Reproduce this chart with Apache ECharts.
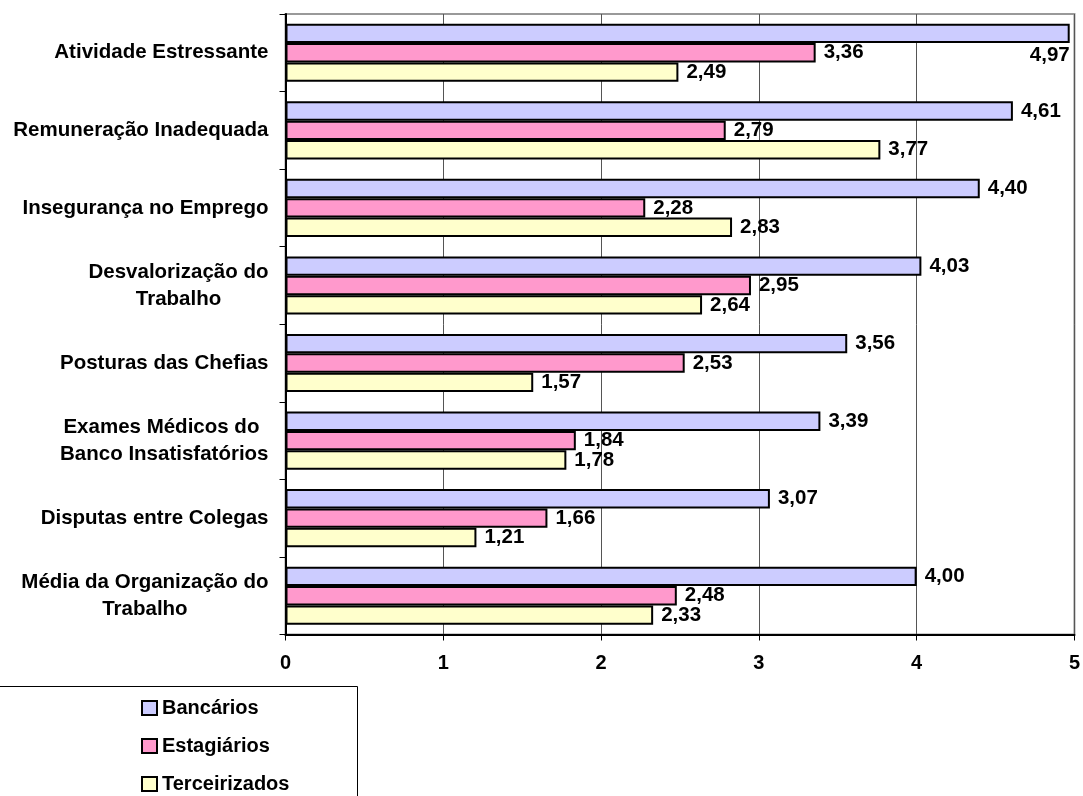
<!DOCTYPE html>
<html>
<head>
<meta charset="utf-8">
<script src="https://cdn.jsdelivr.net/npm/echarts@6/dist/echarts.min.js"></script>
<style>
  html, body { margin: 0; padding: 0; background: #fff; }
  #chart { width: 1083px; height: 796px; }
</style>
</head>
<body>
<div id="chart"></div>
<script>
// Categories, top to bottom
const categories = [
  'Atividade Estressante',
  'Remuneração Inadequada',
  'Insegurança no Emprego',
  'Desvalorização do\nTrabalho',
  'Posturas das Chefias',
  'Exames Médicos do \nBanco Insatisfatórios',
  'Disputas entre Colegas',
  'Média da Organização do\nTrabalho'
];

const seriesNames = ['Bancários', 'Estagiários', 'Terceirizados'];

const bancarios     = [4.97, 4.61, 4.40, 4.03, 3.56, 3.39, 3.07, 4.00];
const estagiarios   = [3.36, 2.79, 2.28, 2.95, 2.53, 1.84, 1.66, 2.48];
const terceirizados = [2.49, 3.77, 2.83, 2.64, 1.57, 1.78, 1.21, 2.33];

const xTicks = [0, 1, 2, 3, 4, 5];

const FONT = '"Liberation Sans", Arial, sans-serif';
const colors = ['#CCCCFF', '#FF99CC', '#FFFFCC'];
const xMax = xTicks[xTicks.length - 1];

const fmt = v => v.toFixed(2).replace('.', ',');

// Values near the axis end get their label tucked under the bar's end
function toData(values) {
  return values.map(v => {
    if (v > xMax - 0.1) {
      return {
        value: v,
        label: {
          position: ['100%', '100%'],
          align: 'right',
          verticalAlign: 'top',
          offset: [0, 2]
        }
      };
    }
    return v;
  });
}

const valueSets = [bancarios, estagiarios, terceirizados];

const series = seriesNames.map((name, i) => ({
  name: name,
  type: 'bar',
  data: toData(valueSets[i]),
  barGap: '0%',
  barCategoryGap: '25%',
  itemStyle: { color: colors[i], borderColor: '#000', borderWidth: 2 },
  label: {
    show: true,
    position: 'right',
    distance: 8,
    color: '#000',
    fontFamily: FONT,
    fontSize: 20.5,
    fontWeight: 'bold',
    formatter: p => fmt(p.value)
  }
}));

const chart = echarts.init(document.getElementById('chart'), null, { renderer: 'canvas' });

chart.setOption({
  animation: false,
  backgroundColor: '#fff',
  grid: {
    left: 285.5, right: 8, top: 14, bottom: 161.5,
    show: true, borderColor: '#999', borderWidth: 2, backgroundColor: 'transparent'
  },
  xAxis: {
    type: 'value',
    min: xTicks[0],
    max: xMax,
    interval: 1,
    axisLine: { show: true, lineStyle: { color: '#000', width: 2 } },
    axisTick: { show: true, length: 6, lineStyle: { color: '#000', width: 1 } },
    splitLine: { show: true, lineStyle: { color: '#555', width: 1 } },
    axisLabel: {
      margin: 19,
      color: '#000',
      fontFamily: FONT,
      fontSize: 20,
      fontWeight: 'bold',
      formatter: v => String(v)
    }
  },
  yAxis: {
    type: 'category',
    inverse: true,
    data: categories,
    axisLine: { show: true, lineStyle: { color: '#000', width: 2 } },
    axisTick: { show: true, length: 6, lineStyle: { color: '#000', width: 1 } },
    axisLabel: {
      margin: 17,
      color: '#000',
      fontFamily: FONT,
      fontSize: 20.5,
      fontWeight: 'bold',
      lineHeight: 27,
      formatter: v => v.split('\n').map(s => '{c|' + s + '}').join('\n'),
      rich: {
        c: {
          align: 'center',
          color: '#000',
          fontFamily: FONT,
          fontSize: 20.5,
          fontWeight: 'bold',
          lineHeight: 27
        }
      }
    }
  },
  legend: {
    orient: 'vertical',
    left: 141,
    top: 698,
    padding: 0,
    itemGap: 18,
    itemWidth: 15,
    itemHeight: 14,
    icon: 'rect',
    data: seriesNames,
    itemStyle: { borderColor: '#000', borderWidth: 2 },
    textStyle: {
      color: '#000',
      fontFamily: FONT,
      fontSize: 20,
      fontWeight: 'bold',
      padding: [0, 0, 0, 0]
    }
  },
  graphic: [{
    type: 'rect',
    silent: true,
    shape: { x: -10, y: 686.5, width: 367.5, height: 200 },
    style: { fill: 'none', stroke: '#000', lineWidth: 1 }
  }],
  series: series
});
</script>
</body>
</html>
